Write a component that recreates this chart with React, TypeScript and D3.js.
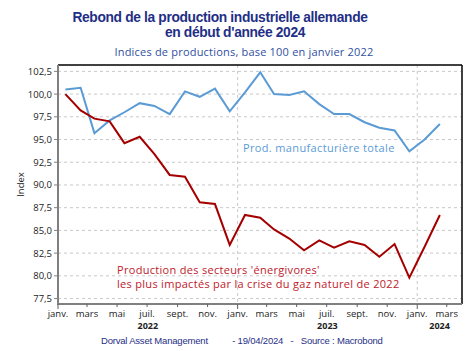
import { useEffect, useRef } from "react";
import * as d3 from "d3";

const WIDTH = 474;
const HEIGHT = 351;
const PAD = { left: 58, right: 12, top: 65, bottom: 47 };

// Monthly values Jan 2022 .. Feb 2024 (plotted at mid-month)
const manufTotal = [
  100.5, 100.7, 95.7, 97.1, 98.0, 99.0, 98.7, 97.8, 100.3, 99.7, 100.6, 98.1,
  100.2, 102.4, 100.0, 99.9, 100.3, 98.9, 97.8, 97.8, 96.9, 96.3, 96.0, 93.7,
  95.0, 96.7,
];
const energyIntensive = [
  100.0, 98.2, 97.3, 97.0, 94.6, 95.3, 93.4, 91.1, 90.9, 88.1, 87.9, 83.4,
  86.7, 86.4, 85.1, 84.1, 82.8, 83.9, 83.1, 83.8, 83.4, 82.1, 83.5, 79.8,
  83.2, 86.7,
];
const yTicks = [77.5, 80, 82.5, 85, 87.5, 90, 92.5, 95, 97.5, 100, 102.5];
const monthLabels = ["janv.", "févr.", "mars", "avr.", "mai", "juin", "juil.", "août", "sept.", "oct.", "nov.", "déc."];
const years = [2022, 2023, 2024];

const FONT_ROUND = "'Open Sans', 'Noto Sans', sans-serif";
const NAVY = "#1f2f86";

export default function App() {
  const svgRef = useRef<SVGSVGElement | null>(null);

  useEffect(() => {
    const svgEl = svgRef.current;
    if (!svgEl) return;
    const svg = d3.select(svgEl);
    svg.selectAll("*").remove();

    const x = d3
      .scaleTime()
      .domain([new Date(2022, 0, 1), new Date(2024, 3, 1)])
      .range([PAD.left, WIDTH - PAD.right]);
    const y = d3.scaleLinear().domain([76.9, 103.2]).range([HEIGHT - PAD.bottom, PAD.top]);
    const midMonth = (i: number) => new Date(2022, i, 16);

    const x0 = PAD.left;
    const x1 = WIDTH - PAD.right;
    const y0 = PAD.top;
    const y1 = HEIGHT - PAD.bottom;

    // Horizontal dashed gridlines
    svg
      .append("g")
      .selectAll("line")
      .data(yTicks)
      .join("line")
      .attr("x1", x0)
      .attr("x2", x1)
      .attr("y1", (d) => y(d))
      .attr("y2", (d) => y(d))
      .attr("stroke", "#c8c8c8")
      .attr("stroke-width", 1)
      .attr("stroke-dasharray", "3 3");

    // Vertical dashed gridlines at year starts
    svg
      .append("g")
      .selectAll("line")
      .data(years.slice(1).map((yr) => new Date(yr, 0, 1)))
      .join("line")
      .attr("x1", (d) => x(d))
      .attr("x2", (d) => x(d))
      .attr("y1", y0)
      .attr("y2", y1)
      .attr("stroke", "#c8c8c8")
      .attr("stroke-dasharray", "3 3");

    // Frame: black top/right, grey left/bottom
    svg.append("line").attr("x1", x0).attr("x2", x1).attr("y1", y0).attr("y2", y0).attr("stroke", "#000").attr("stroke-width", 1.5);
    svg.append("line").attr("x1", x1).attr("x2", x1).attr("y1", y0).attr("y2", y1).attr("stroke", "#000").attr("stroke-width", 1.5);
    svg.append("line").attr("x1", x0).attr("x2", x0).attr("y1", y0).attr("y2", y1 + 1).attr("stroke", "#808080").attr("stroke-width", 2);
    svg.append("line").attr("x1", x0 - 1).attr("x2", x1).attr("y1", y1).attr("y2", y1).attr("stroke", "#808080").attr("stroke-width", 2);

    // Y ticks and labels
    const gy = svg.append("g");
    yTicks.forEach((t) => {
      gy.append("line").attr("x1", x0 - 4).attr("x2", x0).attr("y1", y(t)).attr("y2", y(t)).attr("stroke", "#808080").attr("stroke-width", 1);
      gy.append("text")
        .attr("x", x0 - 6)
        .attr("y", y(t) + 3.5)
        .attr("text-anchor", "end")
        .attr("font-family", FONT_ROUND)
        .attr("font-size", "9.5px")
        .attr("fill", "#222")
        .text(d3.format(".1f")(t).replace(".", ","));
    });

    svg
      .append("text")
      .attr("transform", `translate(24, ${(y0 + y1) / 2}) rotate(-90)`)
      .attr("text-anchor", "middle")
      .attr("font-family", FONT_ROUND)
      .attr("font-size", "9.5px")
      .attr("fill", "#222")
      .text("Index");

    // X ticks: every 2 months labelled
    const tickDates = d3.timeMonth.every(2)!.range(new Date(2022, 0, 1), new Date(2024, 3, 2));
    const gx = svg.append("g");
    tickDates.forEach((d) => {
      const isJan = d.getMonth() === 0;
      gx.append("line")
        .attr("x1", x(d))
        .attr("x2", x(d))
        .attr("y1", y1)
        .attr("y2", y1 + (isJan ? 5 : 3))
        .attr("stroke", "#606060")
        .attr("stroke-width", 1);
      gx.append("text")
        .attr("x", x(d))
        .attr("y", y1 + 13)
        .attr("text-anchor", "middle")
        .attr("font-family", FONT_ROUND)
        .attr("font-size", "9.5px")
        .attr("fill", "#222")
        .text(monthLabels[d.getMonth()]);
    });
    years.forEach((yr) => {
      const a = x(new Date(yr, 0, 1));
      const b = Math.min(x(new Date(yr + 1, 0, 1)), x1);
      gx.append("text")
        .attr("x", (a + b) / 2)
        .attr("y", y1 + 25)
        .attr("text-anchor", "middle")
        .attr("font-family", FONT_ROUND)
        .attr("font-size", "9px")
        .attr("font-weight", "bold")
        .attr("fill", "#222")
        .text(String(yr));
    });

    // Series
    const line = d3
      .line<number>()
      .x((_, i) => x(midMonth(i)))
      .y((v) => y(v));
    svg.append("path").attr("d", line(manufTotal)).attr("fill", "none").attr("stroke", "#5b9bd5").attr("stroke-width", 2);
    svg.append("path").attr("d", line(energyIntensive)).attr("fill", "none").attr("stroke", "#a50000").attr("stroke-width", 2);

    // Annotations
    svg
      .append("text")
      .attr("x", 243)
      .attr("y", 152)
      .attr("font-family", FONT_ROUND)
      .attr("font-size", "11px")
      .attr("letter-spacing", "0.35px")
      .attr("fill", "#5b9bd5")
      .text("Prod. manufacturière totale");
    const red = svg
      .append("g")
      .attr("font-family", FONT_ROUND)
      .attr("font-size", "11px")
      .attr("letter-spacing", "0.3px")
      .attr("fill", "#c0202a");
    red.append("text").attr("x", 117).attr("y", 274).text("Production des secteurs 'énergivores'");
    red.append("text").attr("x", 117).attr("y", 288).text("les plus impactés par la crise du gaz naturel de 2022");

    // Title / subtitle / footer
    const title = svg
      .append("g")
      .attr("font-family", "'Liberation Sans', Arial, sans-serif")
      .attr("font-weight", "bold")
      .attr("font-size", "13.8px")
      .attr("letter-spacing", "-0.35px")
      .attr("fill", NAVY)
      .attr("text-anchor", "middle");
    title.append("text").attr("x", 220).attr("y", 22).text("Rebond de la production industrielle allemande");
    title.append("text").attr("x", 235).attr("y", 37).text("en début d'année 2024");

    svg
      .append("text")
      .attr("x", 244)
      .attr("y", 56)
      .attr("text-anchor", "middle")
      .attr("font-family", FONT_ROUND)
      .attr("font-size", "11px")
      .attr("letter-spacing", "0.2px")
      .attr("fill", "#2f4fa2")
      .text("Indices de productions, base 100 en janvier 2022");

    svg
      .append("text")
      .attr("x", 101)
      .attr("y", 344)
      .attr("font-family", "'Liberation Sans', Arial, sans-serif")
      .attr("font-size", "9.5px")
      .attr("letter-spacing", "-0.2px")
      .attr("fill", NAVY)
      .attr("xml:space", "preserve")
      .text("Dorval Asset Management          - 19/04/2024   -   Source : Macrobond");
  }, []);

  return (
    <svg
      ref={svgRef}
      width={WIDTH}
      height={HEIGHT}
      viewBox={`0 0 ${WIDTH} ${HEIGHT}`}
      style={{ position: "absolute", left: 0, top: 0, background: "#fff" }}
    />
  );
}
